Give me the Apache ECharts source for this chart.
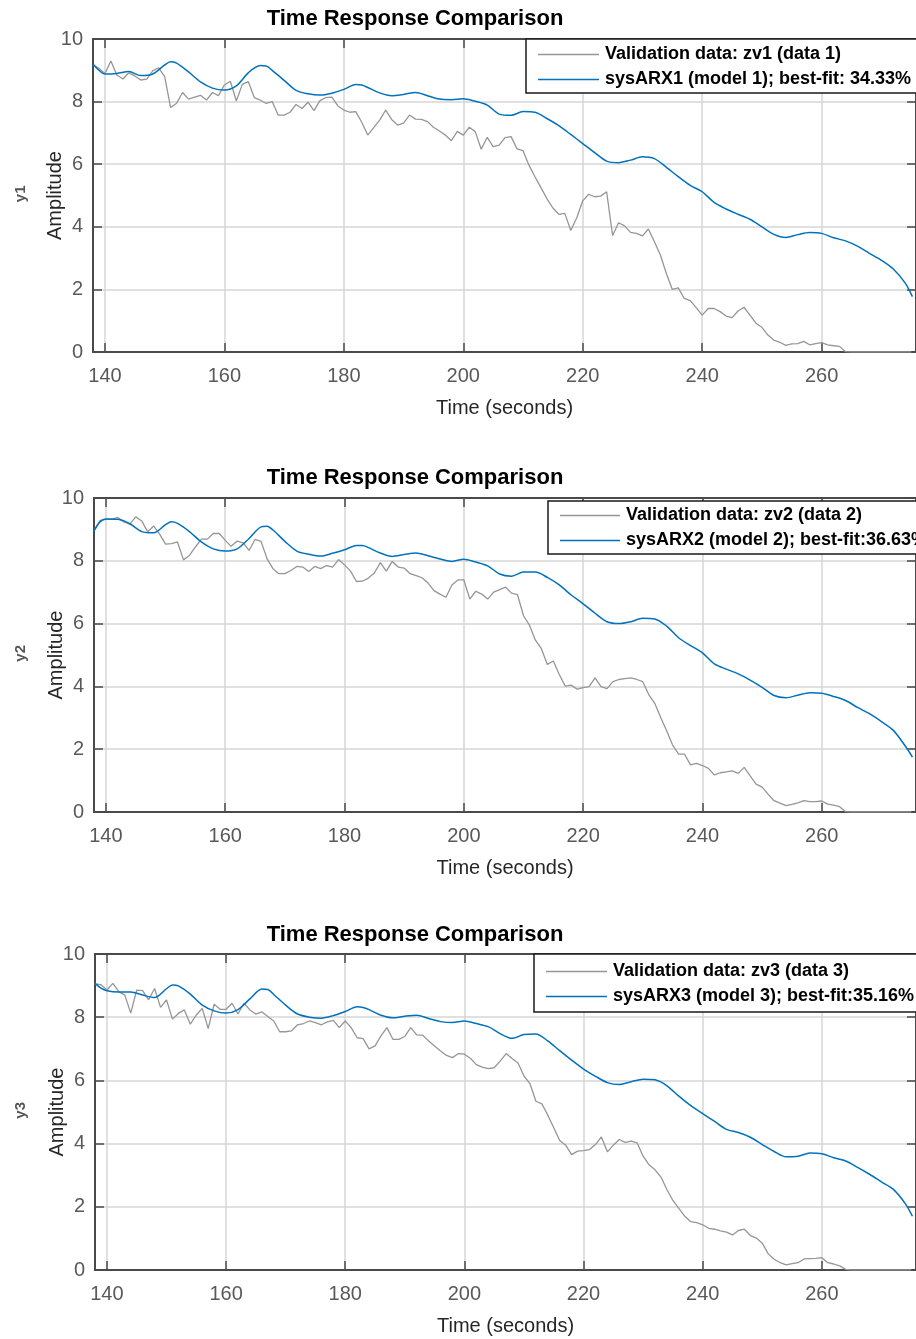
<!DOCTYPE html>
<html>
<head>
<meta charset="utf-8">
<script src="https://cdn.jsdelivr.net/npm/echarts@6/dist/echarts.min.js"></script>
<style>
html,body{margin:0;padding:0;background:#fff;}
#chart{width:916px;height:1339px;}
</style>
</head>
<body>
<div id="chart"></div>
<script>
// ---- data ----
const titleText = 'Time Response Comparison';
const xTicks = [140, 160, 180, 200, 220, 240, 260];
const outputNames = ['y1', 'y2', 'y3'];
const valNames = ['Validation data: zv1 (data 1)', 'Validation data: zv2 (data 2)', 'Validation data: zv3 (data 3)'];
const modNames = ['sysARX1 (model 1); best-fit: 34.33%', 'sysARX2 (model 2); best-fit:36.63%', 'sysARX3 (model 3); best-fit:35.16%'];

const valT = [138,139,140,141,142,143,144,145,146,147,148,149,150,151,152,153,154,155,156,157,
158,159,160,161,162,163,164,165,166,167,168,169,170,171,172,173,174,175,176,177,
178,179,180,181,182,183,184,185,186,187,188,189,190,191,192,193,194,195,196,197,
198,199,200,201,202,203,204,205,206,207,208,209,210,211,212,213,214,215,216,217,
218,219,220,221,222,223,224,225,226,227,228,229,230,231,232,233,234,235,236,237,
238,239,240,241,242,243,244,245,246,247,248,249,250,251,252,253,254,255,256,257,
258,259,260,261,262,263,264,265,266,267,268,269,270,271,272,273,274,275];

const val1 = [9.17,9.06,8.9,9.3,8.85,8.72,8.92,8.82,8.69,8.72,
8.98,9.08,8.8,7.81,7.95,8.29,8.08,8.14,8.2,8.05,
8.29,8.19,8.53,8.65,8.02,8.55,8.64,8.13,8.05,7.94,
8.0,7.57,7.57,7.66,7.91,7.78,7.98,7.71,8.03,8.13,
8.14,7.86,7.73,7.66,7.68,7.34,6.93,7.17,7.41,7.73,
7.43,7.25,7.31,7.57,7.44,7.43,7.36,7.18,7.06,6.93,
6.75,7.05,6.93,7.18,7.04,6.48,6.86,6.56,6.61,6.85,
6.88,6.49,6.43,5.97,5.6,5.25,4.9,4.6,4.4,4.43,
3.88,4.29,4.83,5.04,4.96,4.98,5.12,3.72,4.13,4.03,
3.82,3.79,3.71,3.93,3.52,3.1,2.51,2.0,2.05,1.71,
1.64,1.42,1.18,1.39,1.39,1.29,1.15,1.1,1.31,1.43,
1.18,0.92,0.79,0.54,0.38,0.31,0.21,0.26,0.27,0.34,
0.23,0.27,0.3,0.23,0.2,0.18,0.01,0,0,0,
0,0,0,0,0,0,0,0];

const val2 = [8.95,9.28,9.33,9.33,9.38,9.24,9.17,9.4,9.27,8.92,
9.11,8.85,8.53,8.55,8.6,8.03,8.17,8.44,8.69,8.69,
8.87,8.87,8.65,8.46,8.63,8.57,8.33,8.68,8.62,8.07,
7.75,7.59,7.59,7.69,7.82,7.8,7.66,7.82,7.75,7.85,
7.8,8.04,7.87,7.67,7.34,7.35,7.45,7.61,7.94,7.67,
7.98,7.8,7.77,7.59,7.53,7.46,7.29,7.05,6.94,6.84,
7.23,7.39,7.39,6.78,7.03,6.94,6.78,7.0,7.08,7.16,
6.97,6.92,6.25,5.95,5.47,5.2,4.7,4.81,4.38,4.01,
4.04,3.91,3.96,3.99,4.27,3.99,3.93,4.15,4.22,4.25,
4.27,4.22,4.15,3.74,3.46,3.01,2.59,2.13,1.84,1.84,
1.5,1.55,1.48,1.39,1.18,1.25,1.28,1.31,1.23,1.42,
1.15,0.89,0.79,0.57,0.36,0.28,0.2,0.24,0.29,0.36,
0.33,0.33,0.35,0.25,0.22,0.17,0.01,0,0,0,
0,0,0,0,0,0,0,0];

const val3 = [9.05,9.03,8.86,9.07,8.81,8.7,8.13,8.86,8.84,8.55,
8.91,8.31,8.55,7.94,8.12,8.23,7.78,8.07,8.28,7.64,
8.41,8.25,8.25,8.44,8.1,8.44,8.23,8.1,8.17,8.02,
7.88,7.54,7.54,7.57,7.76,7.8,7.88,7.83,7.76,7.85,
7.9,7.67,7.88,7.67,7.35,7.32,7.0,7.09,7.41,7.67,
7.3,7.3,7.39,7.67,7.44,7.43,7.25,7.09,6.93,6.79,
6.72,6.85,6.83,6.7,6.5,6.42,6.37,6.4,6.61,6.85,
6.69,6.55,6.14,5.9,5.34,5.26,4.9,4.5,4.1,3.95,
3.65,3.76,3.78,3.81,3.97,4.21,3.74,3.95,4.13,4.04,
4.08,4.02,3.6,3.33,3.17,2.94,2.54,2.2,1.95,1.7,
1.53,1.5,1.43,1.32,1.29,1.24,1.2,1.11,1.25,1.29,
1.09,1.01,0.85,0.51,0.34,0.23,0.16,0.2,0.23,0.35,
0.36,0.37,0.39,0.23,0.19,0.13,0.02,0,0,0,
0,0,0,0,0,0,0,0];

const modT = [138,139,140,142,144,146,148,150,151,152,154,156,158,160,162,164,166,167,168,
170,172,174,176,178,180,182,183,184,186,188,190,192,194,196,198,200,202,204,206,208,
210,212,214,216,218,220,222,224,226,228,230,232,234,236,238,240,242,244,246,248,
250,252,254,256,258,260,262,264,266,268,270,272,274,275.2];

const mod1 = [9.2,9.0,8.88,8.9,8.96,8.83,8.88,9.17,9.27,9.23,8.95,8.63,8.43,8.37,8.5,8.92,9.15,9.14,9.0,
8.68,8.36,8.25,8.21,8.27,8.39,8.55,8.53,8.45,8.28,8.19,8.23,8.29,8.19,8.08,8.06,8.09,8.01,7.89,7.6,7.56,
7.68,7.66,7.46,7.23,6.95,6.66,6.37,6.1,6.05,6.13,6.24,6.18,5.9,5.6,5.32,5.12,4.78,4.57,4.4,4.24,
4.0,3.76,3.66,3.75,3.82,3.79,3.65,3.55,3.38,3.15,2.93,2.65,2.2,1.77];

const mod2 = [8.95,9.24,9.33,9.32,9.18,8.93,8.89,9.15,9.24,9.19,8.93,8.6,8.38,8.31,8.38,8.71,9.08,9.1,8.98,
8.62,8.31,8.21,8.15,8.24,8.35,8.49,8.49,8.42,8.25,8.14,8.2,8.25,8.16,8.06,7.98,8.05,7.96,7.84,7.58,7.51,
7.64,7.64,7.47,7.23,6.91,6.63,6.33,6.06,6.0,6.06,6.17,6.15,5.92,5.55,5.3,5.07,4.72,4.55,4.4,4.2,
3.97,3.71,3.64,3.72,3.8,3.78,3.68,3.55,3.33,3.13,2.88,2.6,2.1,1.75];

const mod3 = [9.07,8.92,8.84,8.8,8.8,8.7,8.62,8.9,9.02,8.99,8.73,8.38,8.2,8.13,8.24,8.58,8.89,8.88,8.72,
8.38,8.1,8.0,7.97,8.05,8.18,8.33,8.31,8.24,8.06,7.98,8.03,8.06,7.96,7.86,7.83,7.88,7.8,7.7,7.48,7.33,
7.45,7.47,7.25,6.94,6.64,6.36,6.13,5.93,5.87,5.96,6.04,6.02,5.83,5.5,5.2,4.95,4.7,4.45,4.35,4.2,
3.97,3.75,3.58,3.6,3.7,3.68,3.55,3.45,3.25,3.03,2.79,2.55,2.1,1.7];

const valSets = [val1, val2, val3];
const modSets = [mod1, mod2, mod3];

// ---- layout (pixels) ----
const FONT = '"Liberation Sans", Arial, sans-serif';
const grids = [
  {left: 93, top: 39, width: 827, height: 313},
  {left: 94, top: 498, width: 826, height: 314},
  {left: 95, top: 954, width: 825, height: 316}
];
const titleTops = [8, 467, 924];
const legendPos = [
  {left: 526, top: 39, pad: [5, 300, 3, 12], w: 61},
  {left: 548, top: 501, pad: [4, 300, 3, 12], w: 60},
  {left: 534, top: 954, pad: [7, 300, 5, 12], w: 61}
];

const pair = (xs, ys) => xs.map((x, i) => [x, ys[i]]);

const option = {
  animation: false,
  backgroundColor: '#ffffff',
  title: [], legend: [], grid: [], xAxis: [], yAxis: [], series: [], graphic: []
};

const axisLineStyle = {color: '#4a4a4a', width: 2};
const tickStyle = {color: '#4a4a4a', width: 1.5};

for (let p = 0; p < 3; p++) {
  const g = grids[p];
  option.grid.push({left: g.left, top: g.top, width: g.width, height: g.height, containLabel: false});
  option.title.push({
    text: titleText, left: 415, top: titleTops[p], textAlign: 'center', padding: 0,
    textStyle: {fontFamily: FONT, fontSize: 22, fontWeight: 'bold', color: '#000'}
  });
  // bottom x axis
  option.xAxis.push({
    type: 'value', gridIndex: p, position: 'bottom', min: 138, max: 275.8,
    name: 'Time (seconds)', nameLocation: 'middle', nameGap: 46, nameMoveOverlap: false,
    nameTextStyle: {fontFamily: FONT, fontSize: 20, color: '#262626'},
    axisLine: {show: true, onZero: false, lineStyle: axisLineStyle},
    axisTick: {show: true, inside: true, length: 9, lineStyle: tickStyle, customValues: xTicks},
    axisLabel: {show: true, fontFamily: FONT, fontSize: 20, color: '#595959', margin: 14, customValues: xTicks},
    splitLine: {show: true, lineStyle: {color: '#d6d6d6', width: 1.5}}
  });
  // top x axis (box)
  option.xAxis.push({
    type: 'value', gridIndex: p, position: 'top', min: 138, max: 275.8,
    axisLine: {show: true, onZero: false, lineStyle: axisLineStyle},
    axisTick: {show: true, inside: true, length: 9, lineStyle: tickStyle, customValues: xTicks},
    axisLabel: {show: false}, splitLine: {show: false}
  });
  // left y axis
  option.yAxis.push({
    type: 'value', gridIndex: p, position: 'left', min: 0, max: 10, interval: 2,
    name: 'Amplitude', nameLocation: 'middle', nameGap: 28, nameRotate: 90, nameMoveOverlap: false,
    nameTextStyle: {fontFamily: FONT, fontSize: 20, color: '#262626'},
    axisLine: {show: true, onZero: false, lineStyle: axisLineStyle},
    axisTick: {show: true, inside: true, length: 9, lineStyle: tickStyle},
    axisLabel: {show: true, fontFamily: FONT, fontSize: 20, color: '#595959', margin: 10},
    splitLine: {show: true, lineStyle: {color: '#d6d6d6', width: 1.5}}
  });
  // right y axis (box)
  option.yAxis.push({
    type: 'value', gridIndex: p, position: 'right', min: 0, max: 10, interval: 2,
    axisLine: {show: true, onZero: false, lineStyle: axisLineStyle},
    axisTick: {show: true, inside: true, length: 9, lineStyle: tickStyle},
    axisLabel: {show: false}, splitLine: {show: false}
  });

  option.series.push({
    name: valNames[p], type: 'line', xAxisIndex: 2 * p, yAxisIndex: 2 * p,
    data: pair(valT, valSets[p]), symbol: 'none', showSymbol: false,
    lineStyle: {color: '#969696', width: 1.3}, itemStyle: {color: '#969696'}, z: 3
  });
  option.series.push({
    name: modNames[p], type: 'line', xAxisIndex: 2 * p, yAxisIndex: 2 * p,
    data: pair(modT, modSets[p]), symbol: 'none', showSymbol: false, smooth: 0.3,
    lineStyle: {color: '#0072BD', width: 1.5}, itemStyle: {color: '#0072BD'}, z: 4
  });

  const lp = legendPos[p];
  option.legend.push({
    data: [valNames[p], modNames[p]], orient: 'vertical', left: lp.left, top: lp.top,
    padding: lp.pad, itemGap: 4, itemWidth: lp.w, itemHeight: 1.5, icon: 'rect',
    backgroundColor: '#ffffff', borderColor: '#1a1a1a', borderWidth: 1.5, borderRadius: 0,
    selectedMode: false, z: 10,
    textStyle: {fontFamily: FONT, fontSize: 18, fontWeight: 'bold', color: '#000', lineHeight: 21, padding: [0, 0, 0, 1]}
  });

  option.graphic.push({
    type: 'text', left: 13, top: g.top + g.height / 2 - 10, rotation: Math.PI / 2,
    style: {text: outputNames[p], fontFamily: FONT, fontSize: 15, fontWeight: 'bold', fill: '#555555'}
  });
}

const chart = echarts.init(document.getElementById('chart'), null, {renderer: 'canvas'});
chart.setOption(option);
</script>
</body>
</html>
